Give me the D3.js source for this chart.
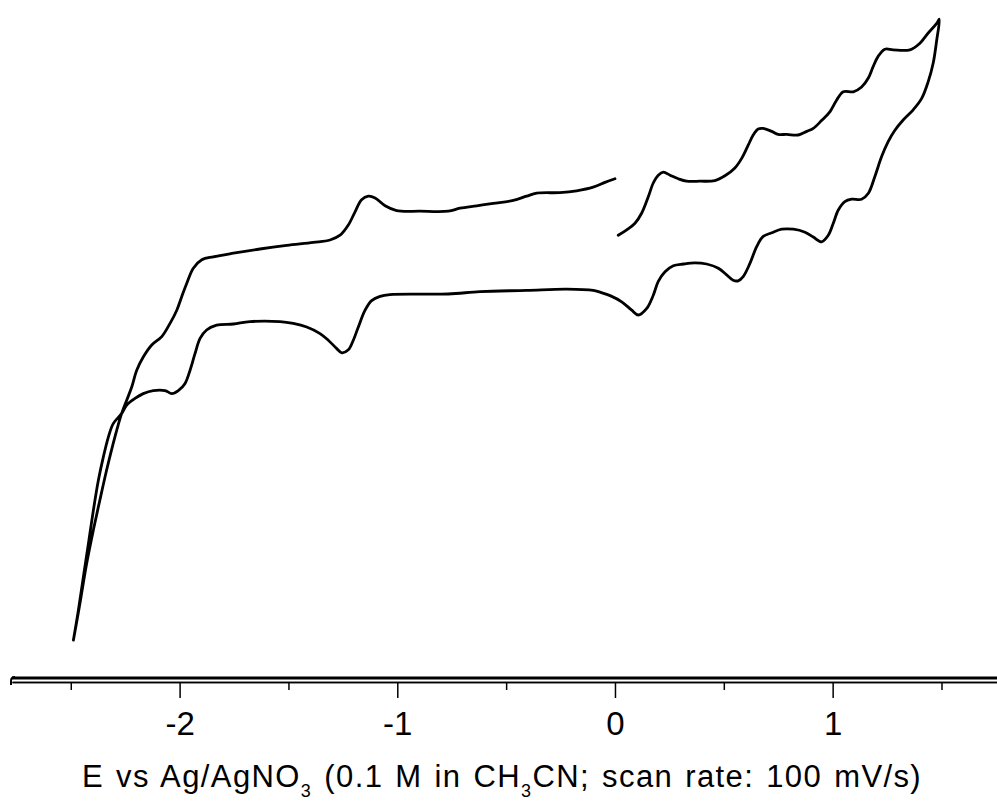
<!DOCTYPE html>
<html>
<head>
<meta charset="utf-8">
<title>Cyclic voltammogram</title>
<script src="https://cdn.jsdelivr.net/npm/d3@7"></script>
<style>
	body { margin: 0; background: #fff; }
	svg { display: block; font-family: "Liberation Sans", Arial, sans-serif; }
</style>
</head>
<body>
<div id="chart"></div>
<script>

// scan 1 : 0 V -> +1.49 V (anodic)
var scan1E = [0.015, 0.054, 0.092, 0.123, 0.153, 0.176, 0.199, 0.222, 0.253, 0.291, 0.329, 0.390, 0.459, 0.505, 0.551, 0.582, 0.612, 0.635, 0.658, 0.681, 0.720, 0.750, 0.789, 0.842, 0.881, 0.911, 0.949, 0.988, 1.018, 1.049, 1.095, 1.133, 1.164, 1.186, 1.209, 1.240, 1.278, 1.355, 1.401, 1.439, 1.478, 1.490];
var scan1I = [10.8, 11.7, 12.8, 14.5, 17.2, 19.5, 20.8, 21.3, 20.8, 20.2, 19.8, 19.8, 19.9, 20.7, 22.0, 23.6, 25.8, 27.5, 28.5, 28.6, 28.1, 27.6, 27.6, 27.5, 28.1, 28.6, 29.9, 31.4, 33.3, 34.7, 34.7, 35.5, 37.0, 38.9, 40.6, 41.8, 41.7, 41.7, 42.8, 44.5, 46.1, 46.8];

// scan 2 : +1.49 V -> -2.49 V (cathodic)
var scan2E = [1.490, 1.478, 1.462, 1.439, 1.409, 1.370, 1.324, 1.286, 1.255, 1.225, 1.194, 1.164, 1.133, 1.087, 1.056, 1.026, 1.003, 0.980, 0.949, 0.911, 0.873, 0.819, 0.766, 0.720, 0.681, 0.651, 0.620, 0.589, 0.566, 0.543, 0.513, 0.475, 0.421, 0.367, 0.314, 0.268, 0.230, 0.199, 0.176, 0.146, 0.107, 0.077, 0.031, -0.015, -0.069, -0.100, -0.222, -0.406, -0.620, -0.766, -1.034, -1.079, -1.118, -1.148, -1.179, -1.202, -1.225, -1.255, -1.278, -1.317, -1.355, -1.416, -1.478, -1.539, -1.677, -1.753, -1.830, -1.876, -1.906, -1.929, -1.952, -1.975, -2.006, -2.036, -2.067, -2.121, -2.167, -2.205, -2.243, -2.266, -2.305, -2.327, -2.350, -2.373, -2.396, -2.419, -2.442, -2.465, -2.488];
var scan2I = [46.8, 43.3, 39.5, 36.4, 33.6, 31.7, 30.0, 28.3, 26.4, 23.9, 20.6, 17.8, 16.8, 16.8, 16.4, 15.0, 12.8, 10.8, 9.7, 10.5, 11.3, 11.8, 11.8, 11.2, 10.6, 8.9, 6.1, 3.9, 3.2, 3.3, 4.2, 5.3, 6.0, 6.2, 6.0, 5.7, 4.7, 3.1, 0.8, -1.4, -2.5, -1.7, -0.3, 0.6, 1.3, 1.6, 1.8, 1.6, 1.4, 1.0, 0.9, 0.6, -0.1, -1.7, -4.5, -6.7, -8.3, -8.8, -8.1, -6.7, -5.6, -4.5, -3.9, -3.6, -3.6, -4.0, -4.2, -5.0, -6.4, -8.9, -11.7, -13.9, -15.1, -15.6, -15.1, -15.1, -15.6, -16.4, -17.5, -18.9, -20.6, -22.8, -26.1, -30.0, -35.0, -40.6, -46.1, -51.7, -56.7];

// scan 3 : -2.49 V -> 0 V (anodic return)
var scan3E = [-2.488, -2.458, -2.427, -2.396, -2.366, -2.335, -2.305, -2.282, -2.266, -2.243, -2.220, -2.197, -2.167, -2.128, -2.082, -2.044, -2.013, -1.990, -1.967, -1.937, -1.898, -1.845, -1.753, -1.631, -1.508, -1.386, -1.309, -1.263, -1.225, -1.194, -1.164, -1.133, -1.102, -1.056, -1.003, -0.896, -0.766, -0.712, -0.635, -0.559, -0.467, -0.406, -0.360, -0.253, -0.176, -0.100, -0.046, 0.000];
var scan3I = [-56.7, -50.6, -43.9, -38.3, -33.3, -28.3, -23.9, -20.8, -18.9, -16.7, -14.5, -11.7, -9.5, -7.5, -6.1, -3.9, -1.7, 0.6, 2.8, 5.3, 6.7, 7.2, 7.8, 8.5, 9.1, 9.6, 10.0, 10.8, 12.5, 14.7, 16.7, 17.3, 17.0, 15.7, 14.9, 14.8, 14.8, 15.3, 15.7, 16.1, 16.6, 17.3, 17.8, 17.9, 18.2, 18.8, 19.6, 20.2];

var majorTicks = [-2, -1, 0, 1];
var minorTicks = [-2.5, -1.5, -0.5, 0.5, 1.5];

var width = 997, height = 801;

const svg = d3.select("#chart").append("svg")
	.attr("width", width)
	.attr("height", height);

var x = d3.scaleLinear().domain([-2.77, 1.755]).range([12, 997]);
var y = d3.scaleLinear().domain([-60, 50]).range([660, 0]);

var line = d3.line()
	.x(function(d) { return x(d[0]); })
	.y(function(d) { return y(d[1]); })
	.curve(d3.curveCatmullRom.alpha(0.5));

// the three scans are one continuous trace
var pts = [];
[[scan1E, scan1I], [scan2E, scan2I], [scan3E, scan3I]].forEach(function(s, k) {
	s[0].forEach(function(e, i) {
		if (k > 0 && i == 0) return;
		pts.push([e, s[1][i]]);
	});
});

svg.append("path")
	.datum(pts)
	.attr("d", line)
	.attr("fill", "none")
	.attr("stroke", "#000")
	.attr("stroke-width", 2.8)
	.attr("stroke-linejoin", "round")
	.attr("stroke-linecap", "round");

// x axis (double line like the original)
var axisY = 682;

svg.append("line")
	.attr("x1", 12).attr("x2", 997)
	.attr("y1", axisY - 4).attr("y2", axisY - 4)
	.attr("stroke", "#000").attr("stroke-width", 3);

svg.append("path")
	.attr("d", "M15,677 Q11,677 11,681 L11,685")
	.attr("fill", "none").attr("stroke", "#000").attr("stroke-width", 2);

var gMinor = svg.append("g")
	.attr("transform", "translate(0," + axisY + ")")
	.call(d3.axisBottom(x).tickValues(minorTicks).tickSize(8).tickSizeOuter(0).tickFormat(""));

var gMajor = svg.append("g")
	.attr("transform", "translate(0," + axisY + ")")
	.call(d3.axisBottom(x).tickValues(majorTicks).tickSize(16).tickSizeOuter(0).tickPadding(12).tickFormat(d3.format("d")));

svg.selectAll(".domain").attr("stroke-width", 1.5);
svg.selectAll(".tick line").attr("stroke-width", 1.5);
gMajor.selectAll(".tick text")
	.attr("font-family", "'Liberation Sans', Arial, sans-serif")
	.attr("font-size", 33)
	.attr("fill", "#000")
	.attr("dy", 0)
	.attr("y", 53)
	.text(function(d) { return d < 0 ? "-" + Math.abs(d) : d; });

// axis title with subscripts
var title = svg.append("text")
	.attr("x", 502)
	.attr("y", 787)
	.attr("text-anchor", "middle")
	.attr("font-size", 31)
	.attr("letter-spacing", 1.4)
	.attr("word-spacing", 2)
	.attr("fill", "#000");

var parts = [
	["E vs Ag/AgNO", 0],
	["3", 1],
	[" (0.1 M in CH", 0],
	["3", 1],
	["CN; scan rate: 100 mV/s)", 0]
];
var shift = 0;
parts.forEach(function(p) {
	var t = title.append("tspan").text(p[0]);
	if (p[1]) { t.attr("font-size", 18).attr("dy", 10 - shift); shift = 10; }
	else { t.attr("dy", -shift); shift = 0; }
});

</script>
</body>
</html>
